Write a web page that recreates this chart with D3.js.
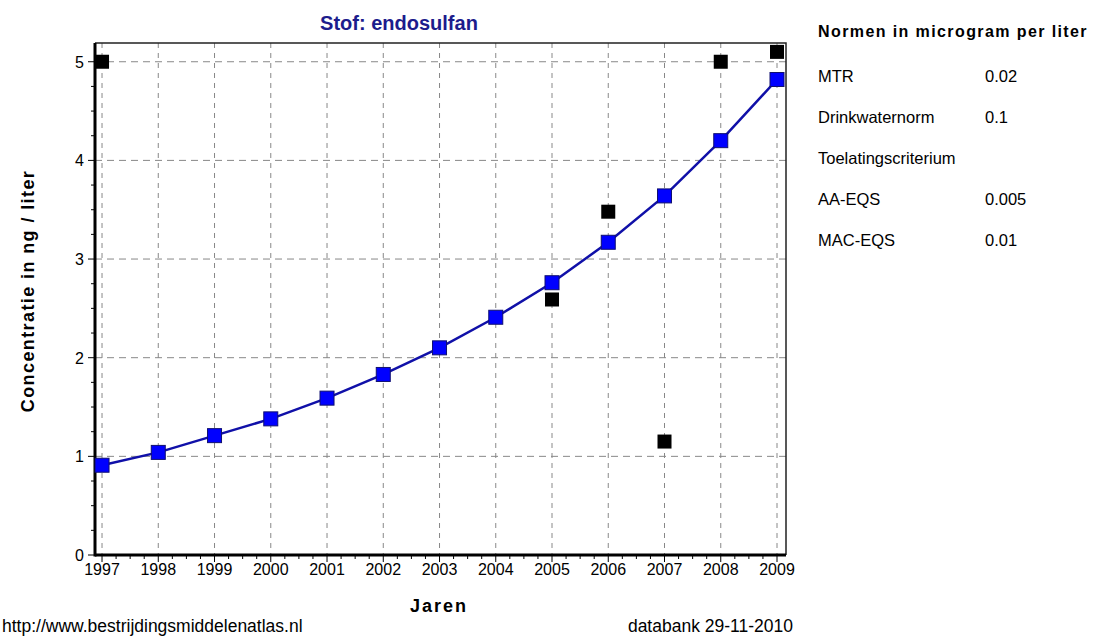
<!DOCTYPE html>
<html>
<head>
<meta charset="utf-8">
<script src="https://cdn.jsdelivr.net/npm/d3@7"></script>
<style>
  body { margin: 0; background: #fff; font-family: "Liberation Sans", Arial, sans-serif; }
  svg text { font-family: "Liberation Sans", Arial, sans-serif; }
</style>
</head>
<body>
<div id="chart"></div>
<script>
// trend line (blue squares)
var years = [1997, 1998, 1999, 2000, 2001, 2002, 2003, 2004, 2005, 2006, 2007, 2008, 2009];
var trend = [0.91, 1.04, 1.21, 1.38, 1.59, 1.83, 2.10, 2.41, 2.76, 3.17, 3.64, 4.20, 4.82];

// measurements (black squares)
var measYears = [1997, 2005, 2006, 2007, 2008, 2009];
var measVals  = [5.0, 2.59, 3.48, 1.15, 5.0, 5.1];

var yTicks = [0, 1, 2, 3, 4, 5];

var normLabels = ["MTR", "Drinkwaternorm", "Toelatingscriterium", "AA-EQS", "MAC-EQS"];
var normValues = ["0.02", "0.1", "", "0.005", "0.01"];

var w = 1093, h = 638,
    p = {"top": 43, "right": 307, "left": 95, "bot": 82};

var svg = d3.select("#chart").append("svg")
  .attr("width", w)
  .attr("height", h)

var x = d3.scaleLinear()
  .domain([1996.875, 2009.16])
  .range([p.left, w - p.right])

var y = d3.scaleLinear()
  .domain([0, 5.19])
  .range([h - p.bot - 1, p.top])

// grid
var grid = svg.append("g")
grid.selectAll(".vgrid")
  .data(years)
  .enter()
    .append("line")
      .attr("x1", function(d){ return x(d) })
      .attr("x2", function(d){ return x(d) })
      .attr("y1", p.top)
      .attr("y2", y(0))
      .attr("stroke", "#888")
      .attr("stroke-dasharray", "5,5")
grid.selectAll(".hgrid")
  .data(yTicks.slice(1))
  .enter()
    .append("line")
      .attr("x1", p.left)
      .attr("x2", w - p.right)
      .attr("y1", function(d){ return y(d) })
      .attr("y2", function(d){ return y(d) })
      .attr("stroke", "#888")
      .attr("stroke-dasharray", "7,5")

// top & right border
svg.append("path")
  .attr("d", "M" + p.left + "," + p.top + "H" + (w - p.right) + "V" + y(0))
  .attr("fill", "none")
  .attr("stroke", "#222")
  .attr("stroke-width", 1.5)

// minor ticks
var xMinor = d3.range(1997, 2009.01, 0.25);
svg.selectAll(".xminor")
  .data(xMinor)
  .enter()
    .append("line")
      .attr("x1", function(d){ return x(d) })
      .attr("x2", function(d){ return x(d) })
      .attr("y1", y(0))
      .attr("y2", function(d){ return y(0) + (d % 1 == 0 ? 7 : 4) })
      .attr("stroke", "#000")
var yMinor = d3.range(0, 5.01, 0.25);
svg.selectAll(".yminor")
  .data(yMinor)
  .enter()
    .append("line")
      .attr("x1", p.left)
      .attr("x2", function(d){ return p.left - (d % 1 == 0 ? 7 : 4) })
      .attr("y1", function(d){ return y(d) })
      .attr("y2", function(d){ return y(d) })
      .attr("stroke", "#000")

// axis lines (thick)
svg.append("line")
  .attr("x1", p.left).attr("x2", p.left)
  .attr("y1", p.top).attr("y2", y(0) + 1.5)
  .attr("stroke", "#000").attr("stroke-width", 3)
svg.append("line")
  .attr("x1", p.left).attr("x2", w - p.right)
  .attr("y1", y(0)).attr("y2", y(0))
  .attr("stroke", "#000").attr("stroke-width", 3)

// tick labels
svg.selectAll(".xlab")
  .data(years)
  .enter()
    .append("text")
      .attr("x", function(d){ return x(d) })
      .attr("y", 575)
      .style("text-anchor", "middle")
      .style("font-size", "16px")
      .text(function(d){ return d })
svg.selectAll(".ylab")
  .data(yTicks)
  .enter()
    .append("text")
      .attr("x", p.left - 11)
      .attr("y", function(d){ return y(d) + 6 })
      .style("text-anchor", "end")
      .style("font-size", "16px")
      .text(function(d){ return d })

// trend line
var line = d3.line()
  .x(function(d, i){ return x(years[i]) })
  .y(function(d){ return y(d) })
svg.append("path")
  .datum(trend)
  .attr("d", line)
  .attr("fill", "none")
  .attr("stroke", "#1010a8")
  .attr("stroke-width", 2.5)

var s = 14;
svg.selectAll(".trendpt")
  .data(trend)
  .enter()
    .append("rect")
      .attr("x", function(d, i){ return x(years[i]) - s/2 })
      .attr("y", function(d){ return y(d) - s/2 })
      .attr("width", s)
      .attr("height", s)
      .style("fill", "#0000ff")
      .style("stroke", "#101070")
      .style("stroke-width", 1)

svg.selectAll(".measpt")
  .data(measVals)
  .enter()
    .append("rect")
      .attr("x", function(d, i){ return x(measYears[i]) - s/2 })
      .attr("y", function(d){ return y(d) - s/2 })
      .attr("width", s)
      .attr("height", s)
      .style("fill", "#000")

// titles
svg.append("text")
  .attr("x", 399)
  .attr("y", 30)
  .style("text-anchor", "middle")
  .style("font-size", "20px")
  .style("font-weight", "bold")
  .style("fill", "#1c1c8c")
  .text("Stof: endosulfan")

svg.append("text")
  .attr("transform", "translate(34,291) rotate(-90)")
  .style("text-anchor", "middle")
  .style("font-size", "18px")
  .style("font-weight", "bold")
  .style("letter-spacing", "1.4px")
  .text("Concentratie in ng / liter")

svg.append("text")
  .attr("x", 439)
  .attr("y", 612)
  .style("text-anchor", "middle")
  .style("font-size", "18px")
  .style("font-weight", "bold")
  .style("letter-spacing", "2px")
  .text("Jaren")

svg.append("text")
  .attr("x", 2)
  .attr("y", 632)
  .style("font-size", "17.5px")
  .text("http://www.bestrijdingsmiddelenatlas.nl")

svg.append("text")
  .attr("x", 793)
  .attr("y", 632)
  .style("text-anchor", "end")
  .style("font-size", "17.5px")
  .text("databank 29-11-2010")

// norms table
svg.append("text")
  .attr("x", 818)
  .attr("y", 37)
  .style("font-size", "16px")
  .style("font-weight", "bold")
  .style("letter-spacing", "1.4px")
  .text("Normen in microgram per liter")

svg.selectAll(".normlab")
  .data(normLabels)
  .enter()
    .append("text")
      .attr("x", 818)
      .attr("y", function(d, i){ return 82 + i * 41 })
      .style("font-size", "16.5px")
      .text(function(d){ return d })
svg.selectAll(".normval")
  .data(normValues)
  .enter()
    .append("text")
      .attr("x", 985)
      .attr("y", function(d, i){ return 82 + i * 41 })
      .style("font-size", "16.5px")
      .text(function(d){ return d })
</script>
</body>
</html>
